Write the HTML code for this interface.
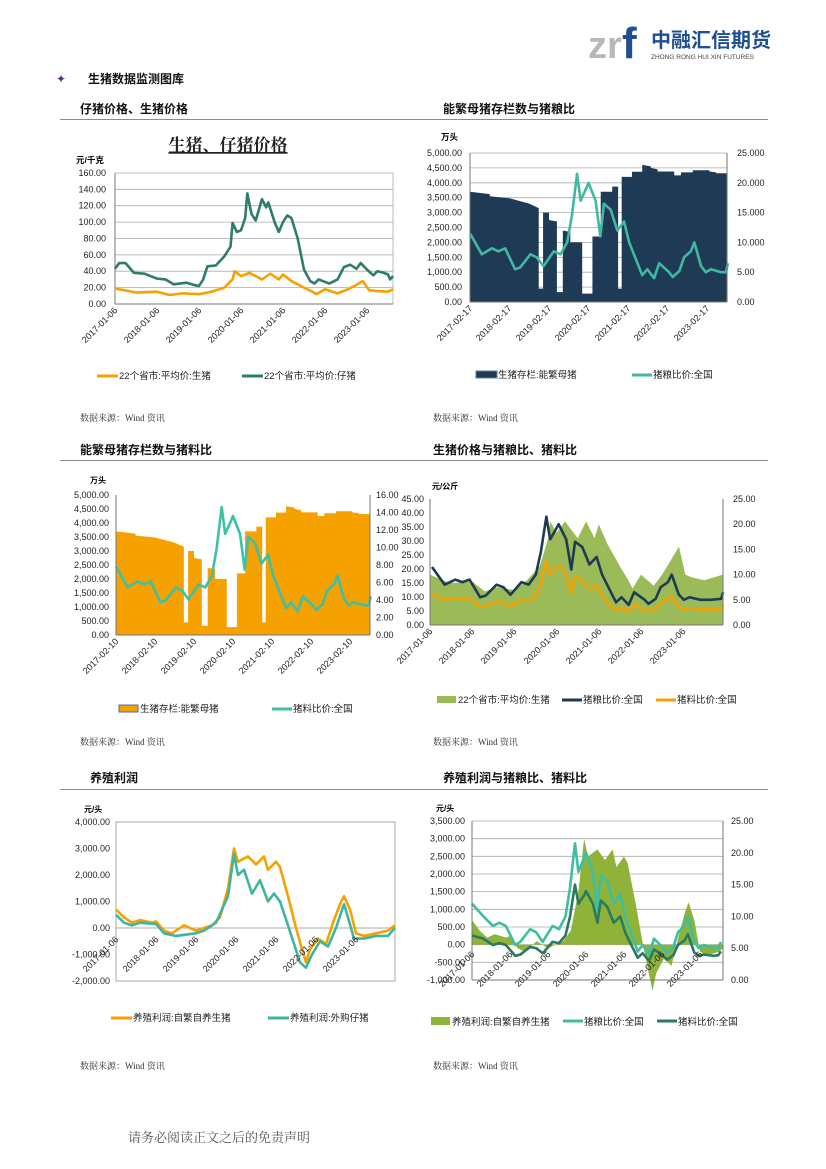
<!DOCTYPE html>
<html><head><meta charset="utf-8"><style>
html,body{margin:0;padding:0;background:#fff}
svg{display:block}
text{font-family:"Liberation Sans","Noto Sans CJK SC",sans-serif}
.ax{font-size:9px;fill:#222}
.h{font-size:12px;font-weight:bold;fill:#111}
.serif{font-family:"Liberation Serif","Noto Serif CJK SC",serif}
.src{font-size:9px;fill:#333;font-family:"Liberation Serif","Noto Serif CJK SC",serif}
.lg{font-size:9.5px;fill:#222}
.grid line{stroke:#aaa;stroke-width:0.8}
.ln{fill:none;vector-effect:non-scaling-stroke;stroke-width:2.6;stroke-linejoin:round}
</style></head><body>
<svg width="826" height="1169" viewBox="0 0 826 1169" xmlns="http://www.w3.org/2000/svg">
<!-- header logo -->
<text x="588" y="58" font-size="38" fill="#b8b8b8" font-weight="bold">zr</text>
<text x="622" y="58" font-size="44" fill="#1d4f91" font-weight="bold">f</text>
<text x="651" y="47" font-size="20" font-weight="bold" fill="#1d4f91">中融汇信期货</text>
<text x="651" y="59" font-size="6.5" fill="#444">ZHONG RONG HUI XIN FUTURES</text>

<text x="56" y="83" font-size="12" fill="#5a2d91">✦</text>
<text x="88" y="83" class="h" font-size="13">生猪数据监测图库</text>

<text x="80" y="113" class="h">仔猪价格、生猪价格</text>
<text x="443" y="113" class="h">能繁母猪存栏数与猪粮比</text>
<line x1="60" y1="119.5" x2="768" y2="119.5" stroke="#666" stroke-width="0.8"/>
<text x="80" y="454" class="h">能繁母猪存栏数与猪料比</text>
<text x="433" y="454" class="h">生猪价格与猪粮比、猪料比</text>
<line x1="60" y1="460.5" x2="768" y2="460.5" stroke="#666" stroke-width="0.8"/>
<text x="90" y="782" class="h">养殖利润</text>
<text x="443" y="782" class="h">养殖利润与猪粮比、猪料比</text>
<line x1="60" y1="789.5" x2="768" y2="789.5" stroke="#666" stroke-width="0.8"/>

<text x="80" y="421" class="src">数据来源：Wind 资讯</text>
<text x="433" y="421" class="src">数据来源：Wind 资讯</text>
<text x="80" y="745" class="src">数据来源：Wind 资讯</text>
<text x="433" y="745" class="src">数据来源：Wind 资讯</text>
<text x="80" y="1069" class="src">数据来源：Wind 资讯</text>
<text x="433" y="1069" class="src">数据来源：Wind 资讯</text>
<text x="128" y="1142" font-size="13" fill="#555" class="serif">请务必阅读正文之后的免责声明</text>

<!-- ===== Chart 1 ===== -->
<text x="228" y="151" text-anchor="middle" font-size="17" fill="#222" class="serif" font-weight="bold" text-decoration="underline">生猪、仔猪价格</text>
<text x="76" y="163" font-size="8.5" font-weight="bold">元/千克</text>
<g class="grid">
<line x1="115" y1="173" x2="393" y2="173"/><line x1="115" y1="189.3" x2="393" y2="189.3"/><line x1="115" y1="205.7" x2="393" y2="205.7"/><line x1="115" y1="222.1" x2="393" y2="222.1"/><line x1="115" y1="238.5" x2="393" y2="238.5"/><line x1="115" y1="254.9" x2="393" y2="254.9"/><line x1="115" y1="271.2" x2="393" y2="271.2"/><line x1="115" y1="287.6" x2="393" y2="287.6"/>
<line x1="393" y1="173" x2="393" y2="304"/>
</g>
<line x1="115" y1="173" x2="115" y2="304" stroke="#777"/><line x1="115" y1="304" x2="393" y2="304" stroke="#777"/>
<g class="ax" text-anchor="end">
<text x="106" y="307">0.00</text><text x="106" y="290.6">20.00</text><text x="106" y="274.2">40.00</text><text x="106" y="257.9">60.00</text><text x="106" y="241.5">80.00</text><text x="106" y="225.1">100.00</text><text x="106" y="208.7">120.00</text><text x="106" y="192.3">140.00</text><text x="106" y="176">160.00</text>
<text transform="translate(118,311) rotate(-45)">2017-01-06</text><text transform="translate(160,311) rotate(-45)">2018-01-06</text><text transform="translate(202,311) rotate(-45)">2019-01-06</text><text transform="translate(244,311) rotate(-45)">2020-01-06</text><text transform="translate(286,311) rotate(-45)">2021-01-06</text><text transform="translate(328,311) rotate(-45)">2022-01-06</text><text transform="translate(370,311) rotate(-45)">2023-01-06</text>
</g>
<g transform="translate(115,304) scale(42,-0.819)">
<polyline class="ln" stroke="#f5a100" points="0,19 .3,16 .5,14 1,15 1.3,11 1.6,13 2,12 2.3,15 2.6,20 2.8,30 2.85,40 3,34 3.2,38 3.5,30 3.7,37 3.9,30 4,36 4.2,28 4.5,20 4.7,15 4.8,12 5,18 5.3,13 5.5,17 5.7,22 5.9,28 6.05,17 6.2,16 6.5,15 6.62,18"/>
<polyline class="ln" stroke="#2e7d6b" points="0,43 .1,50 .25,50 .45,38 .7,37 1,31 1.2,30 1.4,24 1.7,26 1.9,23 2,22 2.1,30 2.2,46 2.4,47 2.6,58 2.75,70 2.8,99 2.9,88 3,90 3.1,105 3.15,135 3.25,110 3.35,102 3.5,128 3.6,118 3.65,124 3.8,100 3.9,88 4,100 4.1,108 4.2,105 4.35,80 4.5,42 4.65,28 4.75,25 4.85,30 5.1,25 5.3,30 5.45,45 5.6,48 5.75,43 5.85,50 6,42 6.15,35 6.25,40 6.4,38 6.5,36 6.55,30 6.62,34"/>
</g>
<line x1="97" y1="376" x2="118" y2="376" stroke="#f5a100" stroke-width="3"/><text x="119" y="379" class="lg">22个省市:平均价:生猪</text>
<line x1="242" y1="376" x2="263" y2="376" stroke="#2e7d6b" stroke-width="3"/><text x="264" y="379" class="lg">22个省市:平均价:仔猪</text>

<!-- ===== Chart 2 ===== -->
<text x="441" y="140" font-size="8.5" font-weight="bold">万头</text>
<g class="grid">
<line x1="470" y1="153" x2="727" y2="153"/><line x1="470" y1="167.9" x2="727" y2="167.9"/><line x1="470" y1="182.8" x2="727" y2="182.8"/><line x1="470" y1="197.7" x2="727" y2="197.7"/><line x1="470" y1="212.6" x2="727" y2="212.6"/><line x1="470" y1="227.5" x2="727" y2="227.5"/><line x1="470" y1="242.4" x2="727" y2="242.4"/><line x1="470" y1="257.3" x2="727" y2="257.3"/><line x1="470" y1="272.2" x2="727" y2="272.2"/><line x1="470" y1="287.1" x2="727" y2="287.1"/>
</g>
<g transform="translate(470,302) scale(39.5,-0.0298)">
<polygon fill="#1f3a55" points="0,0 0,3700 0.5,3620 0.5,3550 1,3480 1.5,3300 1.74,3150 1.74,450 1.85,450 1.85,3000 2,3000 2,2750 2.2,2700 2.2,330 2.35,330 2.35,2400 2.54,2350 2.54,2000 2.84,2000 2.84,280 3.1,280 3.1,2200 3.31,2200 3.31,3700 3.6,3700 3.6,3870 3.75,3870 3.75,450 3.84,450 3.84,4200 4.1,4200 4.1,4370 4.36,4370 4.36,4600 4.58,4550 4.58,4500 4.75,4450 4.75,4380 5.17,4380 5.17,4250 5.34,4250 5.34,4350 5.64,4350 5.64,4420 6.06,4420 6.06,4380 6.23,4350 6.23,4320 6.52,4320 6.52,0"/>
</g>
<g transform="translate(470,302) scale(39.5,-5.96)">
<polyline class="ln" stroke="#40b9a0" points="0,11.5 .3,8 .55,9 .72,8.5 .89,9 1.14,5.5 1.27,5.8 1.53,8 1.69,7.5 1.86,6 2.12,8.5 2.29,8 2.46,10 2.58,14.5 2.71,21.5 2.8,17 2.97,19.5 3,20 3.18,17 3.3,11 3.39,16.5 3.56,15.5 3.73,12 3.9,13.5 4.03,10 4.15,8 4.36,4.5 4.49,5.5 4.66,4 4.79,6.5 5.04,5 5.13,4.2 5.3,5.2 5.42,7.5 5.59,8.5 5.68,10 5.85,6 5.97,5 6.1,5.5 6.36,5 6.48,5 6.53,6.5"/>
</g>
<line x1="470" y1="153" x2="470" y2="302" stroke="#777"/><line x1="727" y1="153" x2="727" y2="302" stroke="#777"/><line x1="470" y1="302" x2="727" y2="302" stroke="#777"/>
<g class="ax" text-anchor="end">
<text x="462" y="305">0.00</text><text x="462" y="290.1">500.00</text><text x="462" y="275.2">1,000.00</text><text x="462" y="260.3">1,500.00</text><text x="462" y="245.4">2,000.00</text><text x="462" y="230.5">2,500.00</text><text x="462" y="215.6">3,000.00</text><text x="462" y="200.7">3,500.00</text><text x="462" y="185.8">4,000.00</text><text x="462" y="170.9">4,500.00</text><text x="462" y="156">5,000.00</text>
<text transform="translate(473,309) rotate(-45)">2017-02-17</text><text transform="translate(512,309) rotate(-45)">2018-02-17</text><text transform="translate(552,309) rotate(-45)">2019-02-17</text><text transform="translate(591,309) rotate(-45)">2020-02-17</text><text transform="translate(631,309) rotate(-45)">2021-02-17</text><text transform="translate(670,309) rotate(-45)">2022-02-17</text><text transform="translate(710,309) rotate(-45)">2023-02-17</text>
</g>
<g class="ax"><text x="737" y="305">0.00</text><text x="737" y="275.2">5.00</text><text x="737" y="245.4">10.000</text><text x="737" y="215.6">15.000</text><text x="737" y="185.8">20.000</text><text x="737" y="156">25.000</text></g>
<rect x="476" y="371" width="21" height="7" fill="#1f3a55" stroke="#5a7fa8"/><text x="498" y="378" class="lg">生猪存栏:能繁母猪</text>
<line x1="632" y1="375" x2="652" y2="375" stroke="#40b9a0" stroke-width="3"/><text x="653" y="378" class="lg">猪粮比价:全国</text>

<!-- ===== Chart 3 ===== -->
<text x="90" y="483" font-size="8" font-weight="bold">万头</text>
<g transform="translate(116,635) scale(39,-0.028)">
<polygon fill="#f5a100" points="0,0 0,3700 0.5,3620 0.5,3550 1,3480 1.5,3300 1.74,3150 1.74,450 1.85,450 1.85,3000 2,3000 2,2750 2.2,2700 2.2,330 2.35,330 2.35,2400 2.54,2350 2.54,2000 2.84,2000 2.84,280 3.1,280 3.1,2200 3.31,2200 3.31,3700 3.6,3700 3.6,3870 3.75,3870 3.75,450 3.84,450 3.84,4200 4.1,4200 4.1,4370 4.36,4370 4.36,4600 4.58,4550 4.58,4500 4.75,4450 4.75,4380 5.17,4380 5.17,4250 5.34,4250 5.34,4350 5.64,4350 5.64,4420 6.06,4420 6.06,4380 6.23,4350 6.23,4320 6.52,4320 6.52,0"/>
</g>
<g transform="translate(116,635) scale(39,-5.95)">
<polyline class="ln" stroke="#3fbfa3" points="0,11.5 .3,8 .55,9 .72,8.5 .89,9 1.14,5.5 1.27,5.8 1.53,8 1.69,7.5 1.86,6 2.12,8.5 2.29,8 2.46,10 2.58,14.5 2.71,21.5 2.8,17 2.97,19.5 3,20 3.18,17 3.3,11 3.39,16.5 3.56,15.5 3.73,12 3.9,13.5 4.03,10 4.15,8 4.36,4.5 4.49,5.5 4.66,4 4.79,6.5 5.04,5 5.13,4.2 5.3,5.2 5.42,7.5 5.59,8.5 5.68,10 5.85,6 5.97,5 6.1,5.5 6.36,5 6.48,5 6.53,6.5"/>
</g>
<line x1="116" y1="495" x2="116" y2="635" stroke="#777"/><line x1="370" y1="495" x2="370" y2="635" stroke="#777"/><line x1="116" y1="635" x2="370" y2="635" stroke="#777"/>
<g class="ax" text-anchor="end" font-size="8.5">
<text x="109" y="638">0.00</text><text x="109" y="624">500.00</text><text x="109" y="610">1,000.00</text><text x="109" y="596">1,500.00</text><text x="109" y="582">2,000.00</text><text x="109" y="568">2,500.00</text><text x="109" y="554">3,000.00</text><text x="109" y="540">3,500.00</text><text x="109" y="526">4,000.00</text><text x="109" y="512">4,500.00</text><text x="109" y="498">5,000.00</text>
<text transform="translate(119,642) rotate(-45)">2017-02-10</text><text transform="translate(158,642) rotate(-45)">2018-02-10</text><text transform="translate(197,642) rotate(-45)">2019-02-10</text><text transform="translate(236,642) rotate(-45)">2020-02-10</text><text transform="translate(275,642) rotate(-45)">2021-02-10</text><text transform="translate(314,642) rotate(-45)">2022-02-10</text><text transform="translate(353,642) rotate(-45)">2023-02-10</text>
</g>
<g class="ax" font-size="8.5"><text x="376" y="638">0.00</text><text x="376" y="620.5">2.00</text><text x="376" y="603">4.00</text><text x="376" y="585.5">6.00</text><text x="376" y="568">8.00</text><text x="376" y="550.5">10.00</text><text x="376" y="533">12.00</text><text x="376" y="515.5">14.00</text><text x="376" y="498">16.00</text></g>
<rect x="119" y="705" width="19" height="7" fill="#f5a100" stroke="#4a6f9f"/><text x="140" y="712" class="lg" font-size="8.5">生猪存栏:能繁母猪</text>
<line x1="272" y1="709" x2="292" y2="709" stroke="#3fbfa3" stroke-width="3"/><text x="293" y="712" class="lg" font-size="8.5">猪料比价:全国</text>

<!-- ===== Chart 4 ===== -->
<text x="432" y="489" font-size="8" font-weight="bold">元/公斤</text>
<g transform="translate(430,625) scale(42.2,-2.8)">
<polygon fill="#9bbb59" points="0,0 0,18 .3,16 .5,15 1,15.5 1.3,12 1.6,13.5 2,12.5 2.3,16 2.6,21 2.8,31 2.85,37 3,33 3.2,37 3.5,31 3.7,37 3.9,31 4,36 4.2,29 4.5,21 4.7,16 4.8,13 5,18 5.3,14 5.5,18 5.7,23 5.9,28 6.05,18 6.2,17 6.5,16 6.94,18 6.94,0"/>
</g>
<g transform="translate(432,625) scale(42.2,-5.04)">
<polyline class="ln" stroke="#1f3a55" points="0,11.5 .3,8 .55,9 .72,8.5 .89,9 1.14,5.5 1.27,5.8 1.53,8 1.69,7.5 1.86,6 2.12,8.5 2.29,8 2.46,10 2.58,14.5 2.71,21.5 2.8,17 2.97,19.5 3,20 3.18,17 3.3,11 3.39,16.5 3.56,15.5 3.73,12 3.9,13.5 4.03,10 4.15,8 4.36,4.5 4.49,5.5 4.66,4 4.79,6.5 5.04,5 5.13,4.2 5.3,5.2 5.42,7.5 5.59,8.5 5.68,10 5.85,6 5.97,5 6.1,5.5 6.36,5 6.6,5 6.85,5.2 6.9,6.5"/>
</g>
<g transform="translate(432,625) scale(42.2,-3.6)">
<polyline class="ln" stroke="#f5a100" points="0,8.5 .3,7 .55,7.5 .72,7 .89,7.5 1.14,5 1.27,5.2 1.53,6.5 1.69,6.2 1.86,5 2.12,7 2.29,6.8 2.46,8 2.58,11.5 2.71,18 2.8,14 2.97,16 3,16.5 3.18,14 3.3,9 3.39,13.5 3.56,12.5 3.73,10 3.9,11 4.03,8 4.15,6.5 4.36,4 4.49,4.8 4.66,3.5 4.79,5.5 5.04,4.3 5.13,3.8 5.3,4.5 5.42,6.3 5.59,7 5.68,8 5.85,5 5.97,4.3 6.1,4.7 6.36,4.3 6.6,4.3 6.85,4.4 6.9,5.5"/>
</g>
<line x1="430" y1="499" x2="430" y2="625" stroke="#777"/><line x1="723" y1="499" x2="723" y2="625" stroke="#777"/><line x1="430" y1="625" x2="723" y2="625" stroke="#777"/>
<g class="ax" text-anchor="end">
<text x="424" y="628">0.00</text><text x="424" y="614">5.00</text><text x="424" y="600">10.00</text><text x="424" y="586">15.00</text><text x="424" y="572">20.00</text><text x="424" y="558">25.00</text><text x="424" y="544">30.00</text><text x="424" y="530">35.00</text><text x="424" y="516">40.00</text><text x="424" y="502">45.00</text>
<text transform="translate(433,632) rotate(-45)">2017-01-06</text><text transform="translate(475,632) rotate(-45)">2018-01-06</text><text transform="translate(517,632) rotate(-45)">2019-01-06</text><text transform="translate(560,632) rotate(-45)">2020-01-06</text><text transform="translate(602,632) rotate(-45)">2021-01-06</text><text transform="translate(644,632) rotate(-45)">2022-01-06</text><text transform="translate(686,632) rotate(-45)">2023-01-06</text>
</g>
<g class="ax"><text x="733" y="628">0.00</text><text x="733" y="602.8">5.00</text><text x="733" y="577.6">10.00</text><text x="733" y="552.4">15.00</text><text x="733" y="527.2">20.00</text><text x="733" y="502">25.00</text></g>
<rect x="437" y="696" width="19" height="7" fill="#9bbb59"/><text x="458" y="703" class="lg" font-size="8.5">22个省市:平均价:生猪</text>
<line x1="562" y1="700" x2="582" y2="700" stroke="#1f3a55" stroke-width="3"/><text x="583" y="703" class="lg" font-size="8.5">猪粮比价:全国</text>
<line x1="656" y1="700" x2="676" y2="700" stroke="#f5a100" stroke-width="3"/><text x="677" y="703" class="lg" font-size="8.5">猪料比价:全国</text>

<!-- ===== Chart 5 ===== -->
<text x="84" y="812" font-size="8" font-weight="bold">元/头</text>
<rect x="116" y="822" width="279" height="159" fill="none" stroke="#aaa"/>
<line x1="116" y1="928" x2="395" y2="928" stroke="#aaa"/>
<g transform="translate(116,928) scale(40,-0.0265)">
<polyline class="ln" stroke="#f5a100" points="0,700 .2,400 .4,200 .6,300 .9,200 1,250 1.2,-100 1.4,-200 1.7,100 2,-100 2.2,0 2.4,100 2.6,400 2.8,1500 2.95,3000 3.05,2500 3.3,2700 3.5,2400 3.7,2700 3.8,2200 4,2500 4.1,2300 4.3,1200 4.5,0 4.65,-800 4.75,-1300 4.85,-800 5.05,-400 5.25,-600 5.45,300 5.6,900 5.7,1200 5.85,700 6,-200 6.2,-300 6.5,-200 6.8,-100 6.97,100"/>
<polyline class="ln" stroke="#3fb59d" points="0,500 .2,200 .4,100 .6,200 1,150 1.2,-200 1.5,-300 2,-200 2.2,-100 2.5,200 2.8,1200 2.95,2800 3.05,2000 3.2,2200 3.4,1300 3.6,1800 3.8,1000 3.95,1300 4.1,1000 4.3,100 4.45,-600 4.6,-1300 4.75,-1500 4.9,-1000 5.1,-500 5.3,-700 5.5,0 5.7,900 5.8,400 5.95,-400 6.2,-400 6.5,-300 6.8,-300 6.97,0"/>
</g>
<g class="ax" text-anchor="end">
<text x="110" y="984">-2,000.00</text><text x="110" y="957.5">-1,000.00</text><text x="110" y="931">0.00</text><text x="110" y="904.5">1,000.00</text><text x="110" y="878">2,000.00</text><text x="110" y="851.5">3,000.00</text><text x="110" y="825">4,000.00</text>
<text transform="translate(119,940) rotate(-45)">2017-01-06</text><text transform="translate(159,940) rotate(-45)">2018-01-06</text><text transform="translate(199,940) rotate(-45)">2019-01-06</text><text transform="translate(239,940) rotate(-45)">2020-01-06</text><text transform="translate(279,940) rotate(-45)">2021-01-06</text><text transform="translate(319,940) rotate(-45)">2022-01-06</text><text transform="translate(359,940) rotate(-45)">2023-01-06</text>
</g>
<line x1="111" y1="1018" x2="132" y2="1018" stroke="#f5a100" stroke-width="3"/><text x="133" y="1021" class="lg" font-size="8.5">养殖利润:自繁自养生猪</text>
<line x1="268" y1="1018" x2="289" y2="1018" stroke="#3fb59d" stroke-width="3"/><text x="290" y="1021" class="lg" font-size="8.5">养殖利润:外购仔猪</text>

<!-- ===== Chart 6 ===== -->
<text x="436" y="811" font-size="8" font-weight="bold">元/头</text>
<g class="grid">
<line x1="472" y1="821" x2="723" y2="821"/><line x1="472" y1="838.7" x2="723" y2="838.7"/><line x1="472" y1="856.3" x2="723" y2="856.3"/><line x1="472" y1="874" x2="723" y2="874"/><line x1="472" y1="891.6" x2="723" y2="891.6"/><line x1="472" y1="909.3" x2="723" y2="909.3"/><line x1="472" y1="927" x2="723" y2="927"/><line x1="472" y1="944.7" x2="723" y2="944.7"/><line x1="472" y1="962.3" x2="723" y2="962.3"/>
</g>
<g transform="translate(472,944.7) scale(38,-0.0353)">
<polygon fill="#8fb339" points="0,0 0,700 .2,400 .4,200 .6,300 .9,200 1,250 1.2,-100 1.4,-200 1.7,100 2,-100 2.2,0 2.4,100 2.6,400 2.8,1500 2.95,3000 3.05,2500 3.3,2700 3.5,2400 3.7,2700 3.8,2200 4,2500 4.1,2300 4.3,1200 4.5,0 4.65,-800 4.75,-1300 4.85,-800 5.05,-400 5.25,-600 5.45,300 5.6,900 5.7,1200 5.85,700 6,-200 6.2,-300 6.5,-200 6.6,-100 6.6,0"/>
</g>
<g transform="translate(472,980) scale(38,-6.36)">
<polyline class="ln" stroke="#3dbf9f" points="0,12 .3,10 .55,8.5 .72,9 .89,8.5 1.14,5.5 1.27,6 1.53,8 1.69,7.5 1.86,6 2.12,8.5 2.29,8 2.46,10 2.58,14.5 2.71,21.5 2.8,17 2.97,19.5 3,20 3.18,17 3.3,11 3.39,16.5 3.56,15.5 3.73,12 3.9,13.5 4.03,10 4.15,8 4.36,4.5 4.49,5.5 4.66,4 4.79,6.5 5.04,5 5.13,4.2 5.3,5.2 5.42,7.5 5.59,8.5 5.68,10 5.85,6 5.97,5 6.1,5.5 6.36,5 6.48,5 6.55,6"/>
<polyline class="ln" stroke="#2a7a5f" points="0,7 .3,6.5 .55,5.5 .72,5.8 .89,5.5 1.14,3.8 1.27,4 1.53,5.2 1.69,5 1.86,4.2 2.12,6 2.29,5.8 2.46,7 2.58,10 2.71,15 2.8,12 2.97,13.5 3,14 3.18,12 3.3,9 3.39,12.5 3.56,11.5 3.73,9 3.9,10 4.03,7.5 4.15,6 4.36,3.5 4.49,4.2 4.66,3 4.79,4.8 5.04,3.8 5.13,3.2 5.3,3.9 5.42,5.5 5.59,6.2 5.68,7.2 5.85,4.3 5.97,3.8 6.1,4 6.36,3.8 6.48,3.9 6.55,4.5"/>
</g>
<line x1="472" y1="821" x2="472" y2="980" stroke="#777"/><line x1="723" y1="821" x2="723" y2="980" stroke="#777"/><line x1="472" y1="980" x2="723" y2="980" stroke="#777"/>
<g class="ax" text-anchor="end">
<text x="465" y="983">-1,000.00</text><text x="465" y="965.3">-500.00</text><text x="465" y="947.7">0.00</text><text x="465" y="930">500.00</text><text x="465" y="912.3">1,000.00</text><text x="465" y="894.6">1,500.00</text><text x="465" y="877">2,000.00</text><text x="465" y="859.3">2,500.00</text><text x="465" y="841.7">3,000.00</text><text x="465" y="824">3,500.00</text>
<text transform="translate(475,955) rotate(-45)">2017-01-06</text><text transform="translate(513,955) rotate(-45)">2018-01-06</text><text transform="translate(551,955) rotate(-45)">2019-01-06</text><text transform="translate(589,955) rotate(-45)">2020-01-06</text><text transform="translate(627,955) rotate(-45)">2021-01-06</text><text transform="translate(665,955) rotate(-45)">2022-01-06</text><text transform="translate(703,955) rotate(-45)">2023-01-06</text>
</g>
<g class="ax"><text x="731" y="983">0.00</text><text x="731" y="951.2">5.00</text><text x="731" y="919.4">10.00</text><text x="731" y="887.6">15.00</text><text x="731" y="855.8">20.00</text><text x="731" y="824">25.00</text></g>
<rect x="431" y="1017" width="19" height="8" fill="#8fb339"/><text x="452" y="1025" class="lg" font-size="8.5">养殖利润:自繁自养生猪</text>
<line x1="563" y1="1021" x2="583" y2="1021" stroke="#3dbf9f" stroke-width="3"/><text x="584" y="1025" class="lg" font-size="8.5">猪粮比价:全国</text>
<line x1="657" y1="1021" x2="677" y2="1021" stroke="#2a7a5f" stroke-width="3"/><text x="678" y="1025" class="lg" font-size="8.5">猪料比价:全国</text>
</svg>
</body></html>
